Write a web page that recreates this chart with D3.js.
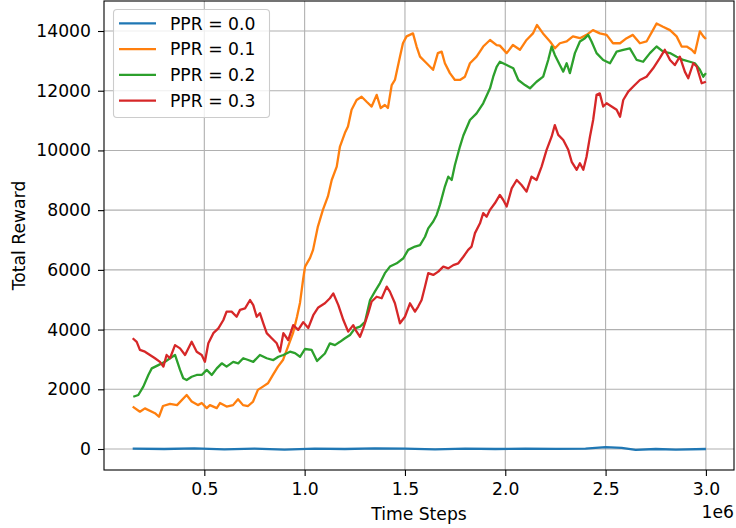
<!DOCTYPE html>
<html>
<head>
<meta charset="utf-8">
<script src="https://cdn.jsdelivr.net/npm/d3@7"></script>
<style>
  body { margin: 0; background: #fff; }
  svg { display: block; font-family: "DejaVu Sans", sans-serif; }
</style>
</head>
<body>
<svg id="chart" width="736" height="528"></svg>
<script>
// time steps are in millions (axis shows the 1e6 offset)
const xTicks = [0.5, 1.0, 1.5, 2.0, 2.5, 3.0];
const yTicks = [0, 2000, 4000, 6000, 8000, 10000, 12000, 14000];
const labels = ["PPR = 0.0", "PPR = 0.1", "PPR = 0.2", "PPR = 0.3"];
const colors = ["#1f77b4", "#ff7f0e", "#2ca02c", "#d62728"];

const ppr00 = [
    [0.143, 10], [0.3, 0], [0.45, 20], [0.6, -10], [0.75, 15], [0.9, -20], [1.05, 10],
    [1.2, 0], [1.35, 20], [1.5, 10], [1.65, -10], [1.8, 10], [1.95, 0], [2.1, 15],
    [2.25, 5], [2.4, 10], [2.5, 60], [2.58, 40], [2.65, -30], [2.75, 0], [2.85, -20], [3.0, 0]
];

const ppr01 = [
    [0.143, 1420], [0.179, 1250], [0.204, 1360], [0.254, 1200], [0.274, 1080], [0.294, 1440],
    [0.329, 1510], [0.364, 1470], [0.412, 1810], [0.437, 1590], [0.468, 1470], [0.487, 1540],
    [0.512, 1370], [0.528, 1470], [0.562, 1370], [0.578, 1540], [0.611, 1420], [0.643, 1470],
    [0.668, 1670], [0.693, 1470], [0.718, 1440], [0.743, 1590], [0.767, 1980], [0.792, 2090],
    [0.817, 2200], [0.842, 2480], [0.867, 2760], [0.892, 2980], [0.917, 3430], [0.942, 3880],
    [0.962, 4430], [0.977, 4900], [0.992, 5660], [1.002, 6110], [1.027, 6400], [1.042, 6670],
    [1.066, 7450], [1.091, 8010], [1.116, 8460], [1.135, 9010], [1.160, 9460], [1.176, 10130],
    [1.201, 10590], [1.216, 10800], [1.234, 11360], [1.259, 11690], [1.284, 11800], [1.309, 11630],
    [1.334, 11470], [1.359, 11860], [1.379, 11420], [1.400, 11520], [1.415, 11420], [1.434, 12190],
    [1.450, 12360], [1.475, 13140], [1.490, 13590], [1.508, 13820], [1.540, 13920], [1.558, 13480],
    [1.575, 13140], [1.608, 12920], [1.640, 12700], [1.664, 13260], [1.683, 13310], [1.699, 12920],
    [1.724, 12590], [1.749, 12360], [1.774, 12360], [1.799, 12470], [1.824, 12920], [1.857, 13140],
    [1.890, 13480], [1.924, 13700], [1.957, 13530], [1.973, 13510], [2.007, 13260], [2.038, 13530],
    [2.073, 13370], [2.106, 13700], [2.138, 13920], [2.158, 14200], [2.188, 13920], [2.223, 13650],
    [2.248, 13420], [2.272, 13590], [2.306, 13650], [2.337, 13820], [2.372, 13760], [2.405, 13870],
    [2.437, 14030], [2.471, 13920], [2.505, 13870], [2.537, 13590], [2.572, 13590], [2.605, 13760],
    [2.636, 13870], [2.671, 13590], [2.704, 13650], [2.736, 14030], [2.754, 14250], [2.786, 14140],
    [2.821, 14030], [2.854, 13820], [2.879, 13480], [2.904, 13480], [2.929, 13370], [2.945, 13260],
    [2.970, 13990], [2.987, 13820], [3.0, 13730]
];

const ppr02 = [
    [0.146, 1750], [0.171, 1810], [0.196, 2090], [0.221, 2480], [0.238, 2700], [0.271, 2810],
    [0.304, 2920], [0.329, 3040], [0.354, 3150], [0.379, 2650], [0.395, 2370], [0.412, 2310],
    [0.437, 2420], [0.462, 2480], [0.487, 2480], [0.512, 2650], [0.537, 2480], [0.562, 2700],
    [0.587, 2870], [0.611, 2760], [0.644, 2920], [0.669, 2870], [0.694, 3040], [0.719, 2980],
    [0.744, 2920], [0.777, 3150], [0.811, 3040], [0.844, 2980], [0.869, 3090], [0.894, 3150],
    [0.927, 3260], [0.952, 3210], [0.977, 3090], [1.002, 3350], [1.035, 3320], [1.062, 2950],
    [1.101, 3200], [1.126, 3540], [1.151, 3480], [1.176, 3590], [1.201, 3710], [1.226, 3820],
    [1.251, 4040], [1.276, 4100], [1.301, 4260], [1.326, 4990], [1.350, 5270], [1.375, 5550],
    [1.400, 5890], [1.425, 6110], [1.459, 6220], [1.492, 6390], [1.516, 6670], [1.550, 6780],
    [1.575, 6830], [1.600, 7110], [1.616, 7390], [1.641, 7620], [1.658, 7840], [1.674, 8170],
    [1.699, 8790], [1.716, 9120], [1.733, 9010], [1.749, 9510], [1.774, 10130], [1.791, 10500],
    [1.824, 11020], [1.857, 11240], [1.890, 11580], [1.924, 12080], [1.940, 12470], [1.957, 12800],
    [1.973, 12970], [2.007, 12860], [2.040, 12750], [2.065, 12360], [2.098, 12190], [2.123, 12080],
    [2.156, 12300], [2.189, 12470], [2.214, 13030], [2.231, 13480], [2.247, 13200], [2.272, 12860],
    [2.289, 12640], [2.306, 12920], [2.322, 12590], [2.347, 13260], [2.372, 13650], [2.397, 13760],
    [2.413, 13870], [2.430, 13650], [2.455, 13260], [2.488, 13030], [2.522, 12920], [2.555, 13310],
    [2.588, 13370], [2.621, 13420], [2.655, 13030], [2.687, 12970], [2.721, 13260], [2.754, 13480],
    [2.787, 13310], [2.821, 13260], [2.854, 13140], [2.887, 13030], [2.920, 12970], [2.945, 12920],
    [2.970, 12700], [2.987, 12470], [3.0, 12590]
];

const ppr03 = [
    [0.143, 3710], [0.163, 3590], [0.179, 3320], [0.204, 3260], [0.229, 3150], [0.254, 3040],
    [0.279, 2920], [0.296, 2760], [0.312, 3150], [0.329, 3040], [0.354, 3480], [0.379, 3370],
    [0.404, 3150], [0.437, 3590], [0.462, 3260], [0.487, 3150], [0.503, 2920], [0.520, 3540],
    [0.545, 3880], [0.570, 4040], [0.595, 4320], [0.611, 4600], [0.636, 4600], [0.661, 4430],
    [0.678, 4660], [0.703, 4710], [0.728, 4990], [0.744, 4820], [0.761, 4430], [0.777, 4550],
    [0.794, 4210], [0.811, 3880], [0.836, 3710], [0.861, 3540], [0.877, 3260], [0.894, 3880],
    [0.918, 3650], [0.943, 4150], [0.968, 3990], [0.993, 4250], [1.018, 4050], [1.043, 4480],
    [1.068, 4740], [1.101, 4880], [1.126, 5050], [1.143, 5210], [1.168, 4820], [1.193, 4320],
    [1.217, 3930], [1.242, 4150], [1.259, 3930], [1.276, 3760], [1.292, 4040], [1.317, 4550],
    [1.334, 4940], [1.359, 5100], [1.384, 5050], [1.409, 5440], [1.425, 5270], [1.450, 4880],
    [1.467, 4430], [1.475, 4210], [1.500, 4430], [1.525, 4880], [1.550, 4600], [1.566, 4770],
    [1.583, 4990], [1.600, 5440], [1.616, 5890], [1.641, 5830], [1.666, 5940], [1.691, 6110],
    [1.716, 6050], [1.741, 6160], [1.766, 6220], [1.791, 6440], [1.815, 6670], [1.832, 6780],
    [1.849, 7230], [1.874, 7560], [1.890, 7900], [1.907, 7780], [1.924, 8010], [1.948, 8230],
    [1.973, 8510], [1.990, 8340], [2.007, 8120], [2.032, 8730], [2.057, 9010], [2.081, 8840],
    [2.106, 8620], [2.131, 9120], [2.156, 9010], [2.181, 9460], [2.206, 10020], [2.231, 10460],
    [2.247, 10850], [2.264, 10520], [2.289, 10350], [2.314, 10020], [2.331, 9620], [2.356, 9350],
    [2.372, 9570], [2.389, 9350], [2.405, 9790], [2.422, 10460], [2.438, 11020], [2.455, 11860],
    [2.471, 11910], [2.488, 11470], [2.505, 11580], [2.530, 11470], [2.555, 11360], [2.572, 11130],
    [2.588, 11690], [2.613, 11970], [2.638, 12140], [2.671, 12360], [2.704, 12470], [2.737, 12750],
    [2.770, 13090], [2.795, 13370], [2.821, 13030], [2.845, 12860], [2.870, 13140], [2.895, 12640],
    [2.912, 12420], [2.937, 12920], [2.954, 12810], [2.979, 12250], [3.0, 12300]
];

const series = [ppr00, ppr01, ppr02, ppr03];

const svg = d3.select("#chart");
const plot = { left: 104, right: 734, top: 1, bottom: 470 };
const fontSize = 17.2;

const x = d3.scaleLinear().domain([0, 3.14]).range([plot.left, plot.right]);
const y = d3.scaleLinear().domain([-703, 15005]).range([plot.bottom, plot.top]);

// grid
svg.append("g").selectAll("line").data(xTicks).join("line")
    .attr("x1", d => x(d)).attr("x2", d => x(d))
    .attr("y1", plot.top).attr("y2", plot.bottom)
    .attr("stroke", "#b0b0b0").attr("stroke-width", 1.1);
svg.append("g").selectAll("line").data(yTicks).join("line")
    .attr("x1", plot.left).attr("x2", plot.right)
    .attr("y1", d => y(d)).attr("y2", d => y(d))
    .attr("stroke", "#b0b0b0").attr("stroke-width", 1.1);

// lines
const line = d3.line().x(d => x(d[0])).y(d => y(d[1]));
series.forEach((s, i) => {
    svg.append("path")
        .datum(s)
        .attr("fill", "none")
        .attr("stroke", colors[i])
        .attr("stroke-width", 2.3)
        .attr("stroke-linejoin", "round")
        .attr("d", line);
});

// axes
const xAxis = svg.append("g").attr("transform", `translate(0,${plot.bottom})`)
    .call(d3.axisBottom(x).tickValues(xTicks).tickFormat(d3.format(".1f")).tickSize(6).tickPadding(7));
const yAxis = svg.append("g").attr("transform", `translate(${plot.left},0)`)
    .call(d3.axisLeft(y).tickValues(yTicks).tickFormat(d3.format("d")).tickSize(6).tickPadding(7));
[xAxis, yAxis].forEach(a => {
    a.select(".domain").remove();
    a.selectAll(".tick line").attr("stroke", "#000").attr("stroke-width", 1.1);
    a.selectAll(".tick text").attr("fill", "#000")
        .style("font-size", fontSize + "px").style("font-family", "DejaVu Sans");
});

// frame
svg.append("rect")
    .attr("x", plot.left).attr("y", plot.top)
    .attr("width", plot.right - plot.left).attr("height", plot.bottom - plot.top)
    .attr("fill", "none").attr("stroke", "#000").attr("stroke-width", 1.1);

// labels
svg.append("text")
    .attr("x", (plot.left + plot.right) / 2).attr("y", 520)
    .attr("text-anchor", "middle")
    .style("font-size", fontSize + "px")
    .text("Time Steps");
svg.append("text")
    .attr("x", plot.right).attr("y", 518)
    .attr("text-anchor", "end")
    .style("font-size", fontSize + "px")
    .text("1e6");
svg.append("text")
    .attr("transform", `translate(25,${(plot.top + plot.bottom) / 2}) rotate(-90)`)
    .attr("text-anchor", "middle")
    .style("font-size", fontSize + "px")
    .text("Total Reward");

// legend
const legend = svg.append("g");
legend.append("rect")
    .attr("x", 113.5).attr("y", 9.5).attr("width", 156).attr("height", 108)
    .attr("rx", 3.5)
    .attr("fill", "#fff").attr("fill-opacity", 0.8)
    .attr("stroke", "#cccccc").attr("stroke-width", 1.1);
labels.forEach((lab, i) => {
    const ly = 23.3 + i * 25.8;
    legend.append("line")
        .attr("x1", 119).attr("x2", 156)
        .attr("y1", ly).attr("y2", ly)
        .attr("stroke", colors[i]).attr("stroke-width", 2.3);
    legend.append("text")
        .attr("x", 170).attr("y", ly + 6.3)
        .style("font-size", fontSize + "px")
        .text(lab);
});
</script>
</body>
</html>
